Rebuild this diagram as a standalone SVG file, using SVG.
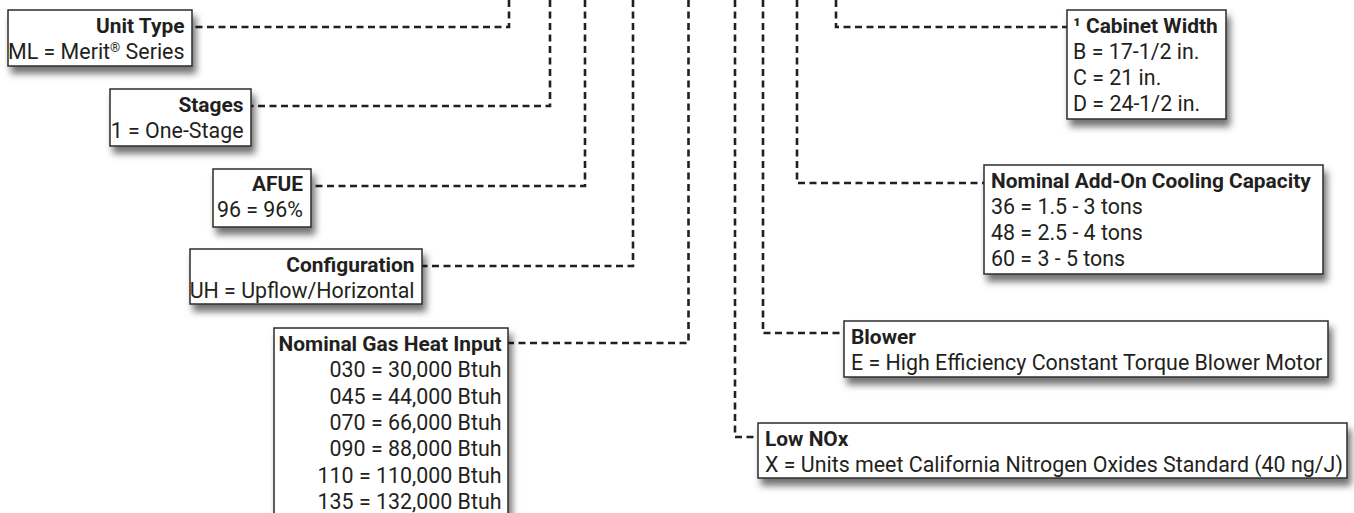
<svg xmlns="http://www.w3.org/2000/svg" width="1354" height="513" viewBox="0 0 1354 513">
<defs>
<filter id="sh" x="-10%" y="-20%" width="130%" height="170%">
<feDropShadow dx="3.5" dy="7" stdDeviation="3.5" flood-color="#000" flood-opacity="0.55"/>
</filter>
<style>
.box{fill:#fff;stroke:#2b2b2b;stroke-width:1.5;filter:url(#sh)}
text{font-family:Roboto,"Liberation Sans",sans-serif;font-size:21.4px;fill:#231f20}
.t{font-weight:bold;font-size:20.9px}
.r{text-anchor:end}
.conn path{fill:none;stroke:#231f20;stroke-width:2.6;stroke-dasharray:7 4.5}
</style>
</defs>
<rect width="1354" height="513" fill="#fff"/>
<g class="conn" id="connectors">
<path d="M509,0 V27 H192"/>
<path d="M550,0 V106 H251"/>
<path d="M585,0 V186 H311"/>
<path d="M633,0 V266 H422"/>
<path d="M688.5,0 V343 H508"/>
<path d="M735,0 V437 H758"/>
<path d="M763,0 V333 H844"/>
<path d="M797,0 V183 H984"/>
<path d="M836,0 V27 H1067"/>
</g>
<g id="unit-type">
<rect class="box" x="8" y="10" width="184" height="56"/>
<text class="t r" x="184.5" y="33">Unit Type</text>
<text class="r" x="184.5" y="59">ML = Merit<tspan font-size="13" dy="-7">®</tspan><tspan dy="7"> Series</tspan></text>
</g>
<g id="stages">
<rect class="box" x="110" y="89" width="141" height="57"/>
<text class="t r" x="243.5" y="112">Stages</text>
<text class="r" x="243.5" y="138">1 = One-Stage</text>
</g>
<g id="afue">
<rect class="box" x="213" y="169" width="98" height="58"/>
<text class="t r" x="303" y="191">AFUE</text>
<text class="r" x="303" y="217">96 = 96%</text>
</g>
<g id="configuration">
<rect class="box" x="190" y="249" width="232" height="55"/>
<text class="t r" x="414.5" y="272">Configuration</text>
<text class="r" x="414.5" y="298">UH = Upflow/Horizontal</text>
</g>
<g id="gas-heat">
<rect class="box" x="274" y="328" width="234" height="200"/>
<text class="t r" x="501.5" y="351">Nominal Gas Heat Input</text>
<text class="r" x="501.5" y="377.3">030 = 30,000 Btuh</text>
<text class="r" x="501.5" y="403.6">045 = 44,000 Btuh</text>
<text class="r" x="501.5" y="430">070 = 66,000 Btuh</text>
<text class="r" x="501.5" y="456.3">090 = 88,000 Btuh</text>
<text class="r" x="501.5" y="482.6">110 = 110,000 Btuh</text>
<text class="r" x="501.5" y="509">135 = 132,000 Btuh</text>
</g>
<g id="cabinet-width">
<rect class="box" x="1067" y="10" width="159" height="109"/>
<text class="t" x="1073" y="33">¹ Cabinet Width</text>
<text x="1073" y="59">B = 17-1/2 in.</text>
<text x="1073" y="85">C = 21 in.</text>
<text x="1073" y="111">D = 24-1/2 in.</text>
</g>
<g id="cooling-capacity">
<rect class="box" x="984" y="165" width="339" height="109"/>
<text class="t" x="991" y="188">Nominal Add-On Cooling Capacity</text>
<text x="991" y="214">36 = 1.5 - 3 tons</text>
<text x="991" y="240">48 = 2.5 - 4 tons</text>
<text x="991" y="266">60 = 3 - 5 tons</text>
</g>
<g id="blower">
<rect class="box" x="844" y="321" width="484" height="56"/>
<text class="t" x="851" y="344">Blower</text>
<text x="851" y="370">E = High Efficiency Constant Torque Blower Motor</text>
</g>
<g id="low-nox">
<rect class="box" x="758" y="423" width="589" height="55"/>
<text class="t" x="765" y="446">Low NOx</text>
<text x="765" y="472">X = Units meet California Nitrogen Oxides Standard (40 ng/J)</text>
</g>
</svg>
